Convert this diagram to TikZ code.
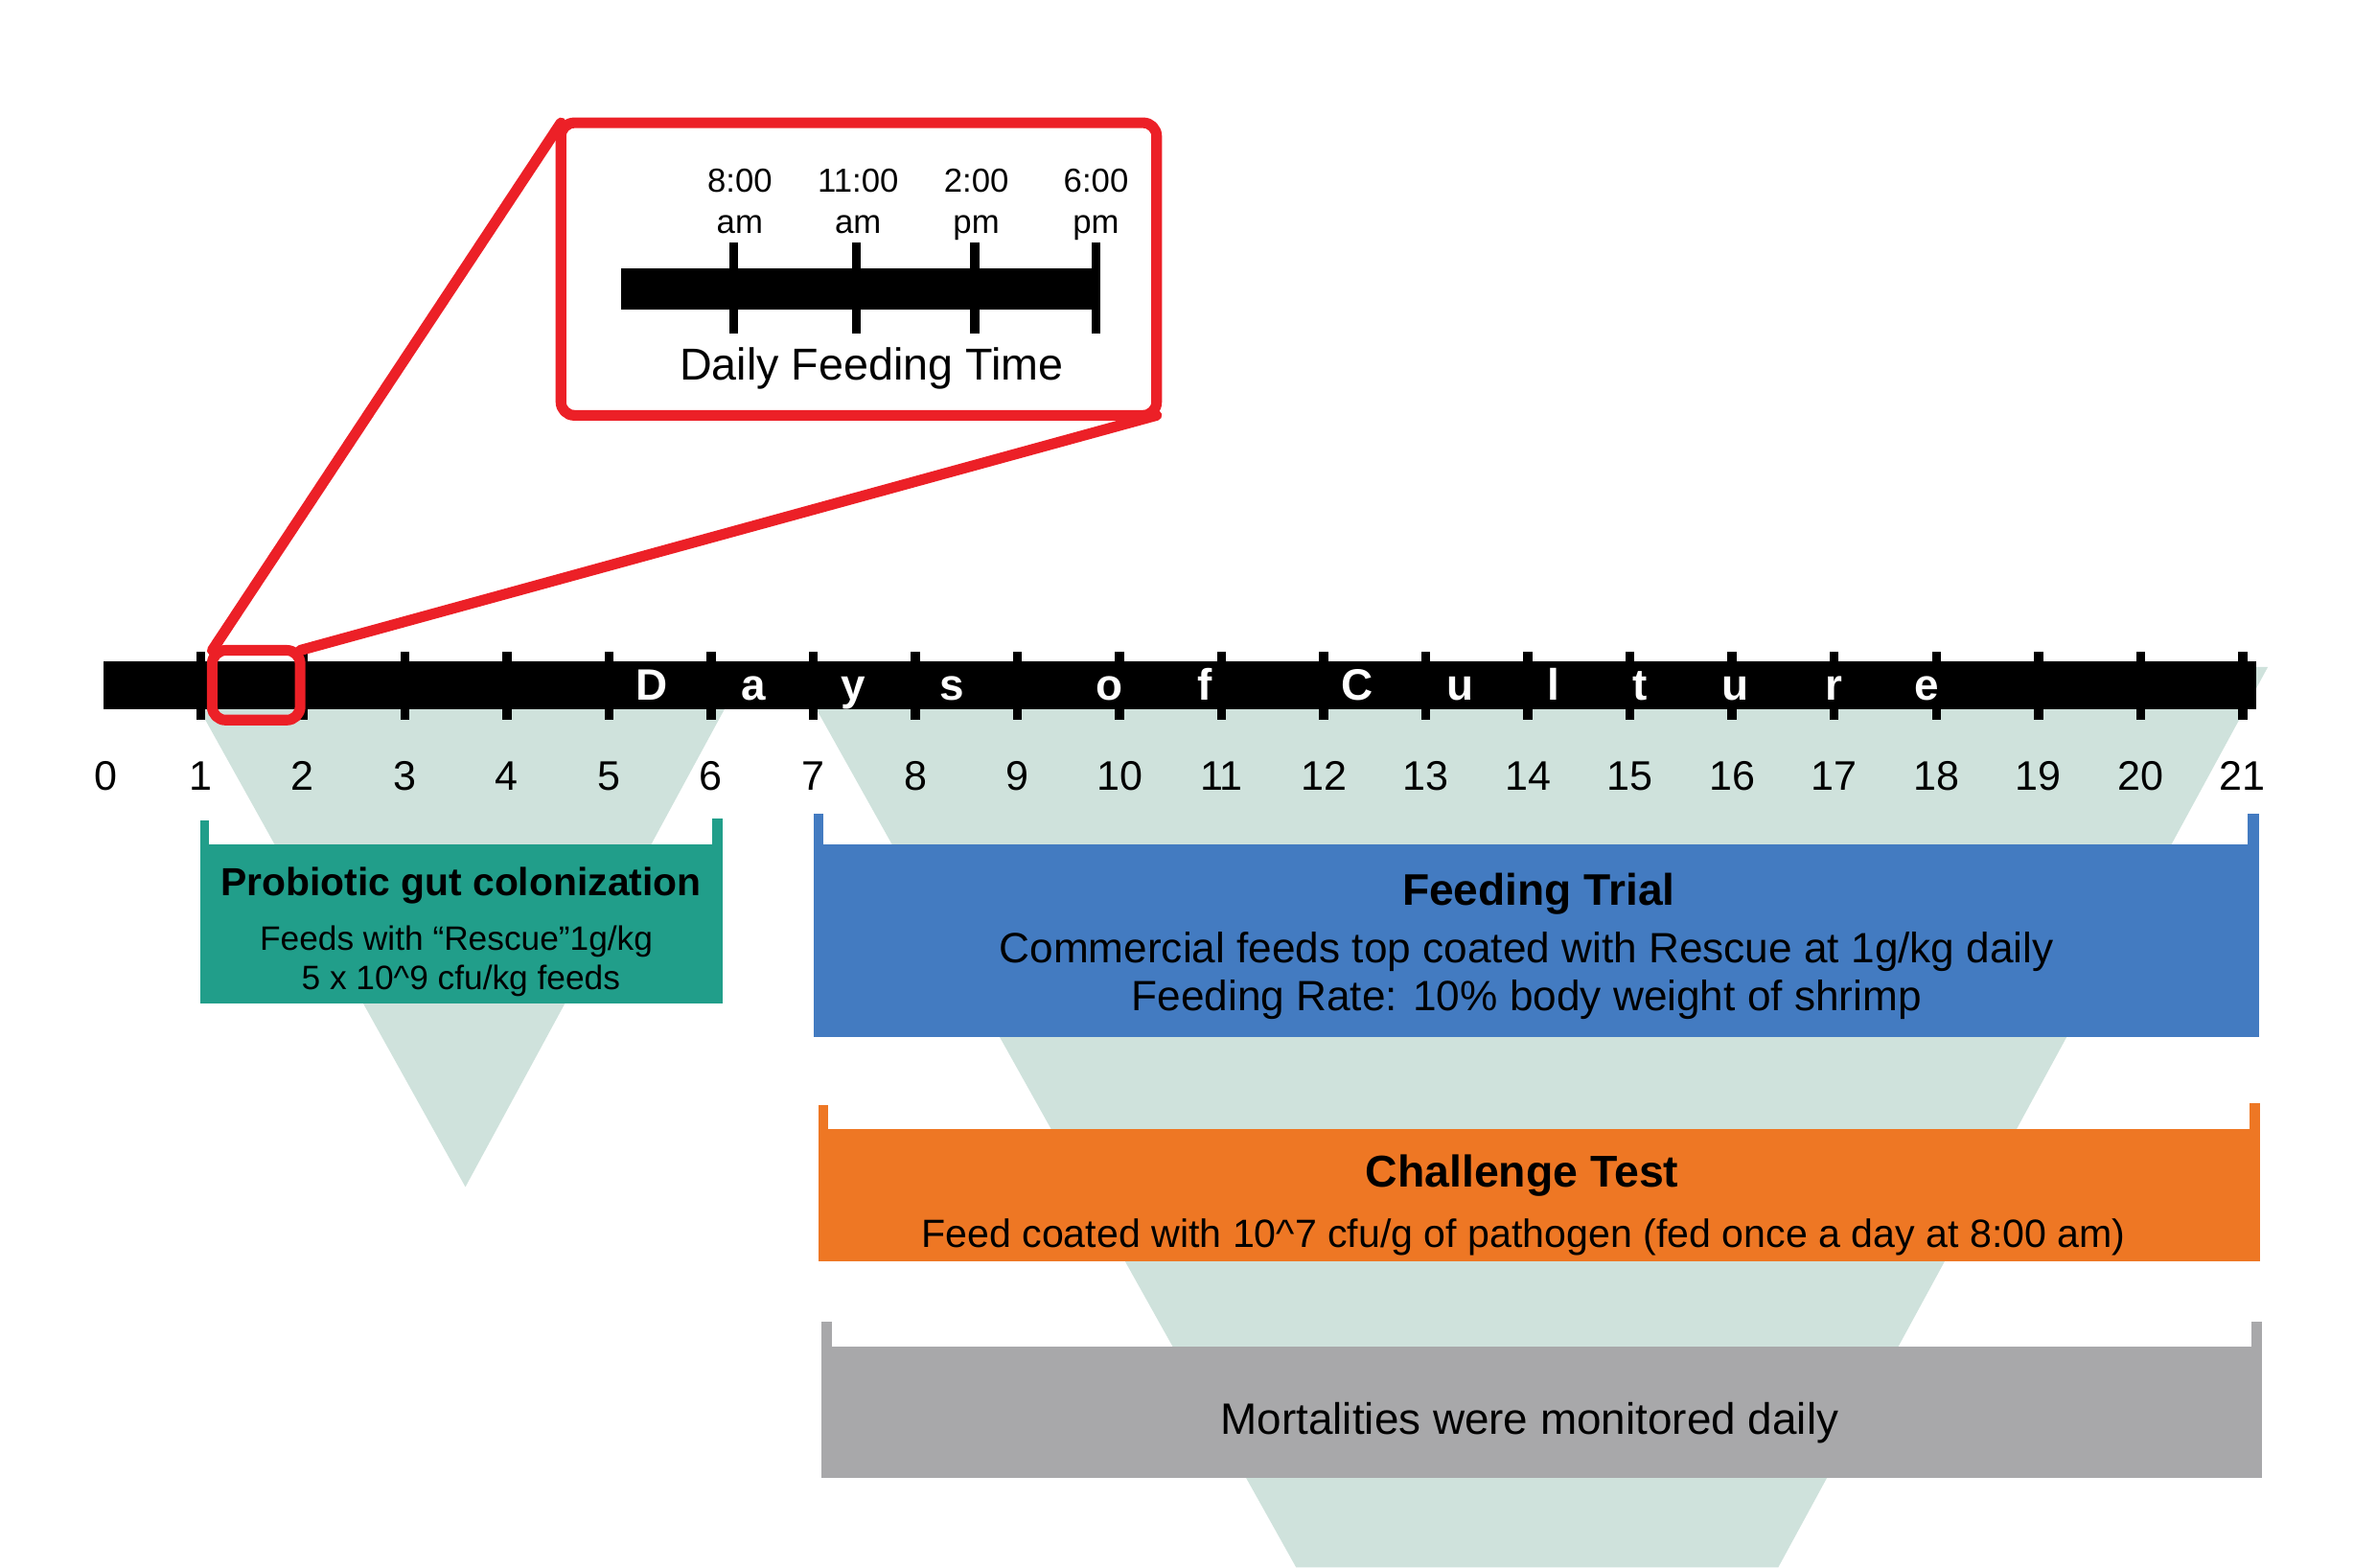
\documentclass[tikz,border=0pt]{standalone}
\usepackage{fontspec}
\setmainfont{Liberation Sans}
\definecolor{funnelgreen}{RGB}{207,226,220}
\definecolor{zoomred}{RGB}{236,32,39}
\definecolor{colonteal}{RGB}{33,158,138}
\definecolor{trialblue}{RGB}{67,123,193}
\definecolor{challengeorange}{RGB}{238,119,36}
\definecolor{mortgrey}{RGB}{168,168,170}

\begin{document}
\begin{tikzpicture}[x=0.02cm,y=-0.02cm,line join=round,line cap=round,
  lbl/.style={inner sep=0pt,anchor=base},
  stage/.style={inner sep=0pt,outer sep=0pt},
  zoombox/.style={draw=zoomred,line width=4pt,rounded corners=5pt,inner sep=0pt,outer sep=0pt},
  zoomline/.style={draw=zoomred,line width=4pt}]
\useasboundingbox (0,0) rectangle (1568,1034);

% Shaded funnels
\fill[funnelgreen] (116,440)--(493,440)--(307,783)--cycle;
\fill[funnelgreen] (523,440)--(1496,440)--(1173,1034)--(855,1034)--cycle;

% Days of culture bar
\fill (68,436) rectangle (1488,468);
\foreach \dd in {1,...,21}
  \fill ({65+67.35*\dd-3},430) rectangle ({65+67.35*\dd+3},475);
\foreach \dd in {0,...,21}
  \node[lbl,font=\fontsize{15.5}{18}\selectfont] (day\dd) at ({max(70,65+67.35*\dd)},521) {\dd};
\foreach \ch/\x [count=\n] in {D/430,a/497,y/563,s/628,o/732,f/795,C/895,u/963,l/1025,t/1082,u/1145,r/1210,e/1271}
  \node[lbl,white,font=\bfseries\fontsize{16.5}{18}\selectfont] (letter\n) at (\x,462) {\ch};

% Probiotic gut colonization
\node[stage,fill=colonteal,minimum width=6.9cm,minimum height=2.1cm] (colon) at (304.5,609.5) {};
\fill[colonteal] (colon.north west) rectangle ++(6,-16);
\fill[colonteal] (colon.north east) rectangle ++(-7,-17);
\node[lbl,font=\bfseries\fontsize{14.7}{17}\selectfont] (colontitle) at (304,591) {Probiotic gut colonization};
\node[lbl,font=\fontsize{12.7}{15}\selectfont] (colonrate) at (301,627) {Feeds with “Rescue”1g/kg};
\node[lbl,font=\fontsize{12.7}{15}\selectfont] (colondose) at (304,653) {5 x 10\textasciicircum9 cfu/kg feeds};

% Feeding trial
\node[stage,fill=trialblue,minimum width=19.06cm,minimum height=2.54cm] (trial) at (1013.5,620.5) {};
\fill[trialblue] (trial.north west) rectangle ++(6,-20);
\fill[trialblue] (trial.north east) rectangle ++(-7,-20);
\node[lbl,font=\bfseries\fontsize{16.6}{19}\selectfont] (trialtitle) at (1015,597) {Feeding Trial};
\node[lbl,font=\fontsize{15.9}{18}\selectfont] (trialfeed) at (1007,635) {Commercial feeds top coated with Rescue at 1g/kg daily};
\node[lbl,font=\fontsize{15.9}{18}\selectfont] (trialrate) at (1007,667) {Feeding Rate: 10\% body weight of shrimp};

% Challenge test
\node[stage,fill=challengeorange,minimum width=19.02cm,minimum height=1.74cm] (challenge) at (1015.5,788.5) {};
\fill[challengeorange] (challenge.north west) rectangle ++(6,-16);
\fill[challengeorange] (challenge.north east) rectangle ++(-7,-17);
\node[lbl,font=\bfseries\fontsize{16.7}{19}\selectfont] (challengetitle) at (1004,783) {Challenge Test};
\node[lbl,font=\fontsize{14.8}{17}\selectfont] (challengefeed) at (1005,823) {Feed coated with 10\textasciicircum7 cfu/g of pathogen (fed once a day at 8:00 am)};

% Mortality
\node[stage,fill=mortgrey,minimum width=19cm,minimum height=1.74cm] (mort) at (1017,931.5) {};
\fill[mortgrey] (mort.north west) rectangle ++(7,-16);
\fill[mortgrey] (mort.north east) rectangle ++(-7,-16);
\node[lbl,font=\fontsize{16.5}{19}\selectfont] (morttext) at (1009,946) {Mortalities were monitored daily};

% Zoom inset
\node[zoombox,minimum width=7.86cm,minimum height=3.86cm] (inset) at (566.5,177.5) {};
\node[zoombox,minimum width=1.16cm,minimum height=0.92cm] (mark) at (169,452) {};
\draw[zoomline] (mark.north west) -- (inset.north west);
\draw[zoomline] (mark.north east) -- (inset.south east);

% Daily feeding time
\fill (410,177) rectangle (724,204);
\foreach \tx/\lx/\clock/\half [count=\n] in {484/488/8:00/am,565/566/11:00/am,643/644/2:00/pm,723/723/6:00/pm}{
  \fill (\tx-3,160) rectangle (\tx+3,220);
  \node[inner sep=0pt,anchor=north,align=center,font=\fontsize{12.5}{15.4}\selectfont] (time\n) at (\lx,111) {\clock\\\half};
}
\node[lbl,font=\fontsize{16.8}{19}\selectfont] (dailylbl) at (575,251) {Daily Feeding Time};
\end{tikzpicture}
\end{document}
